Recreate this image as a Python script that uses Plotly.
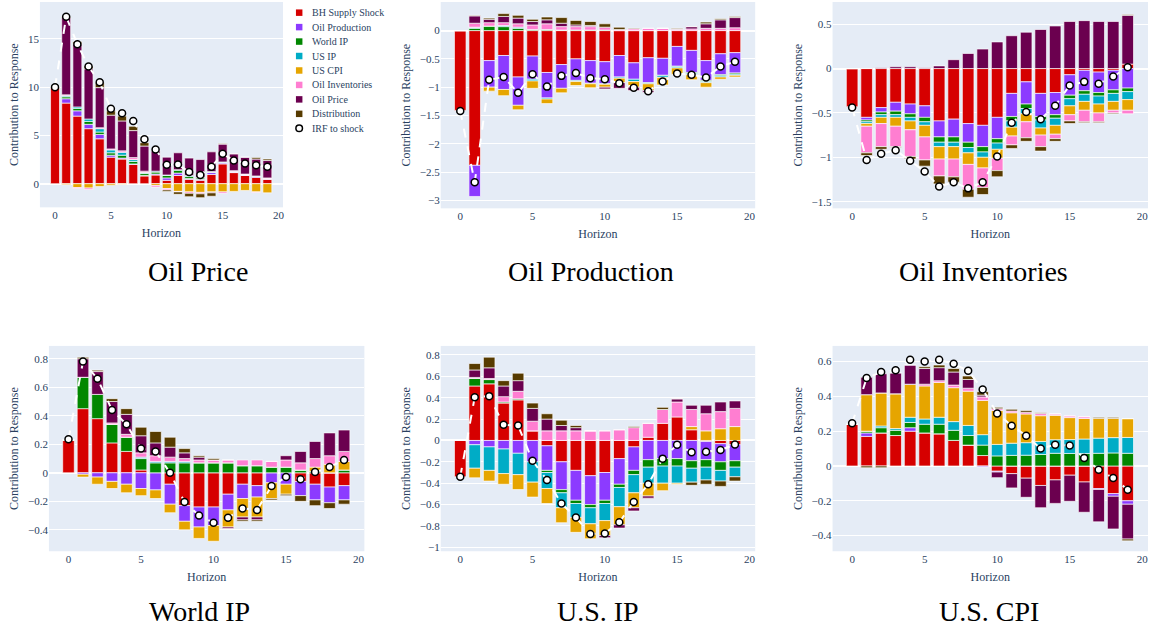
import plotly.graph_objects as go

W, H = 1153, 634
horizon = list(range(20))

shock_names = ["BH Supply Shock", "Oil Production", "World IP", "US IP",
               "US CPI", "Oil Inventories", "Oil Price", "Distribution"]
shock_colors = ["#d60000", "#8c3bff", "#018700", "#00acc6",
                "#e6a500", "#ff7ed1", "#6b004f", "#573b00"]

# Historical decomposition of each response: one row per structural shock
# (same order as shock_names), one column per horizon 0..19.
oil_price_decomp = [
    [10.0, 8.35, 7.0, 5.7, 4.65, 2.75, 2.55, 2.0, 0.8, 0.9, 0.35, 0.85, 0.45, 0.35, 0.95, 2.05, 1.15, 0.85, 0.65, 0.45],
    [0, 0.45, 0.55, 0.45, 0.45, 0.2, 0.1, 0.05, 0.05, 0.1, 0.25, 0.25, 0.1, 0.1, 0.2, 0.1, 0.05, 0.05, 0.1, 0.05],
    [0, 0.2, 0.25, 0.3, 0.25, 0.25, 0.3, 0.25, 0.2, 0.2, 0.25, 0.3, 0.2, 0.15, 0.05, 0.05, 0.05, 0.03, 0.02, 0.02],
    [0, 0.1, 0.15, 0.25, 0.35, 0.3, 0.3, 0.2, 0.1, 0.1, 0.05, 0.05, 0.1, 0.05, 0.05, 0.05, 0.05, 0.02, 0.03, 0.03],
    [0, -0.1, -0.4, -0.45, -0.3, -0.15, -0.05, 0, 0, -0.2, -0.5, -0.8, -0.85, -0.9, -0.85, -0.85, -0.8, -0.7, -0.85, -0.95],
    [0, 0.1, -0.1, -0.15, 0.1, 0.1, 0.15, 0.2, 0.15, -0.15, -0.15, -0.05, -0.15, -0.15, -0.1, -0.15, 0.05, 0.05, -0.05, 0.05],
    [0, 8.0, 6.5, 5.2, 4.15, 3.5, 3.1, 2.8, 2.6, 2.1, 1.85, 1.75, 1.8, 1.85, 2.05, 1.85, 1.75, 1.75, 1.75, 1.8],
    [0, 0.1, 0.25, 0.3, 0.5, 0.45, 0.5, 0.45, 0.35, 0.05, -0.15, -0.25, -0.35, -0.4, -0.35, 0.05, 0, 0, 0.15, 0.15],
]
oil_price_irf = [10.0, 17.3, 14.45, 12.15, 10.5, 7.75, 7.3, 6.5, 4.6, 3.55,
                 1.95, 2.0, 1.2, 0.9, 1.75, 3.1, 2.4, 2.1, 1.9, 1.75]

oil_prod_decomp = [
    [-1.41, -2.38, -0.53, -0.44, -0.82, -0.45, -0.74, -0.6, -0.5, -0.53, -0.55, -0.44, -0.57, -0.48, -0.49, -0.28, -0.35, -0.53, -0.41, -0.39],
    [0, -0.55, -0.47, -0.6, -0.5, -0.41, -0.45, -0.42, -0.38, -0.4, -0.39, -0.38, -0.29, -0.44, -0.3, -0.35, -0.39, -0.35, -0.37, -0.36],
    [0, 0.04, 0.08, 0.07, 0.04, 0.02, 0.02, 0.01, 0.01, 0.01, 0.01, 0.0, 0.0, 0.0, -0.01, -0.01, -0.02, -0.02, -0.02, -0.02],
    [0, 0.02, 0.0, 0.02, 0.02, -0.03, -0.02, 0.0, -0.02, -0.01, -0.01, -0.02, -0.04, -0.02, -0.03, -0.02, -0.02, -0.02, -0.02, -0.02],
    [0, 0, -0.07, -0.11, -0.08, -0.13, -0.08, -0.08, -0.07, -0.07, -0.05, -0.08, -0.1, -0.12, -0.13, -0.11, -0.09, -0.08, -0.04, -0.03],
    [0, 0.07, 0.06, 0.05, 0.06, 0.08, 0.1, 0.06, 0.06, 0.06, 0.05, 0.02, 0.03, 0.04, 0.04, 0.02, 0.03, 0.04, 0.04, 0.05],
    [0, 0.13, 0.06, 0.11, 0.1, 0.06, 0.07, 0.06, 0.03, 0.02, -0.03, -0.1, -0.06, -0.03, 0.0, 0.01, 0.04, 0.08, 0.15, 0.18],
    [0, 0.01, 0.02, 0.05, 0.05, 0.04, 0.05, 0.1, 0.08, 0.07, 0.06, 0.04, 0.01, 0.0, 0.0, 0.01, 0.0, 0.03, 0.02, 0.02],
]
oil_prod_irf = [-1.42, -2.68, -0.87, -0.82, -1.1, -0.77, -0.99, -0.8, -0.75, -0.84,
                -0.86, -0.93, -1.01, -1.07, -0.9, -0.76, -0.78, -0.83, -0.635, -0.55]

oil_inv_decomp = [
    [-0.43, -0.55, -0.44, -0.38, -0.4, -0.42, -0.59, -0.57, -0.62, -0.64, -0.55, -0.28, -0.15, -0.28, -0.27, -0.07, -0.02, -0.04, -0.02, 0.05],
    [0, -0.03, -0.05, -0.1, -0.11, -0.13, -0.18, -0.2, -0.21, -0.24, -0.24, -0.26, -0.25, -0.26, -0.25, -0.23, -0.23, -0.23, -0.22, -0.22],
    [0, -0.02, -0.03, -0.04, -0.04, -0.05, -0.06, -0.06, -0.06, -0.06, -0.05, -0.05, -0.05, -0.04, -0.04, -0.04, -0.04, -0.04, -0.04, -0.04],
    [0, -0.02, -0.03, -0.03, -0.04, -0.04, -0.05, -0.05, -0.06, -0.06, -0.07, -0.07, -0.06, -0.09, -0.08, -0.08, -0.08, -0.09, -0.09, -0.09],
    [0, -0.03, -0.07, -0.1, -0.1, -0.13, -0.14, -0.14, -0.13, -0.12, -0.1, -0.1, -0.09, -0.08, -0.1, -0.1, -0.1, -0.1, -0.1, -0.12],
    [0, -0.3, -0.26, -0.23, -0.3, -0.26, -0.19, -0.2, -0.28, -0.22, -0.14, -0.1, -0.18, -0.13, -0.05, -0.07, -0.13, -0.1, -0.03, -0.04],
    [0, 0.0, 0.01, 0.02, 0.02, 0.01, 0.03, 0.1, 0.17, 0.22, 0.3, 0.37, 0.41, 0.44, 0.48, 0.53, 0.54, 0.53, 0.53, 0.55],
    [0, -0.03, -0.03, -0.01, -0.03, -0.07, -0.09, -0.06, -0.09, -0.08, -0.07, -0.04, -0.04, -0.05, -0.03, -0.03, -0.01, -0.01, -0.01, 0.01],
]
oil_inv_irf = [-0.44, -1.03, -0.96, -0.92, -1.04, -1.16, -1.33, -1.28, -1.35, -1.28,
               -0.99, -0.61, -0.49, -0.57, -0.42, -0.19, -0.15, -0.17, -0.09, 0.015]

world_ip_decomp = [
    [0.23, 0.45, 0.38, 0.21, 0.15, 0.02, 0.0, -0.08, -0.23, -0.24, -0.24, -0.15, -0.08, -0.09, 0.0, 0.0, -0.06, -0.08, -0.1, -0.09],
    [0, -0.01, -0.03, -0.06, -0.08, -0.11, -0.12, -0.14, -0.11, -0.14, -0.13, -0.11, -0.1, -0.08, -0.07, -0.08, -0.1, -0.11, -0.11, -0.1],
    [0, 0.22, 0.17, 0.13, 0.1, 0.08, 0.07, 0.07, 0.07, 0.07, 0.07, 0.07, 0.05, 0.05, 0.04, 0.04, 0.02, 0.01, 0.0, 0.02],
    [0, 0.0, 0.0, 0.0, 0.0, 0.01, 0.01, 0.01, 0.01, 0.0, 0.0, 0.0, 0.0, 0.0, 0.0, 0.0, 0.0, 0.0, 0.0, 0.0],
    [0, -0.02, -0.05, -0.05, -0.06, -0.05, -0.06, -0.06, -0.06, -0.08, -0.11, -0.12, -0.13, -0.14, -0.11, -0.07, 0.0, 0.03, 0.06, 0.06],
    [0, 0.0, 0.0, 0.01, 0.02, 0.03, 0.04, 0.03, 0.02, 0.02, 0.02, 0.02, 0.04, 0.04, 0.04, 0.05, 0.05, 0.06, 0.06, 0.07],
    [0, 0.13, 0.16, 0.15, 0.14, 0.12, 0.09, 0.07, 0.04, 0.02, 0.0, -0.01, -0.02, -0.02, 0.0, 0.03, 0.08, 0.12, 0.16, 0.15],
    [0, 0.01, 0.01, 0.02, 0.04, 0.06, 0.08, 0.07, 0.03, 0.01, 0.01, 0.0, -0.01, -0.01, -0.01, -0.01, -0.04, -0.04, -0.04, -0.03],
]
world_ip_irf = [0.235, 0.78, 0.66, 0.44, 0.34, 0.17, 0.15, 0.0, -0.205, -0.3,
                -0.35, -0.315, -0.25, -0.26, -0.093, -0.03, -0.045, 0.005, 0.04, 0.09]

us_ip_decomp = [
    [-0.34, 0.51, 0.53, 0.35, 0.38, 0.09, -0.05, -0.2, -0.28, -0.33, -0.3, -0.17, -0.06, 0.03, 0.16, 0.22, 0.1, -0.01, -0.03, -0.04],
    [0, -0.04, -0.06, -0.08, -0.12, -0.2, -0.23, -0.26, -0.28, -0.27, -0.26, -0.24, -0.22, -0.18, -0.17, -0.17, -0.19, -0.17, -0.17, -0.15],
    [0, 0.07, 0.04, 0.01, 0.01, 0.0, -0.02, -0.03, -0.03, -0.03, -0.03, -0.03, -0.04, -0.07, -0.07, -0.07, -0.07, -0.07, -0.08, -0.06],
    [0, -0.22, -0.22, -0.23, -0.2, -0.19, -0.15, -0.14, -0.13, -0.15, -0.16, -0.18, -0.17, -0.15, -0.16, -0.16, -0.13, -0.12, -0.1, -0.09],
    [0, -0.09, -0.1, -0.1, -0.14, -0.14, -0.14, -0.14, -0.14, -0.14, -0.14, -0.17, -0.14, -0.12, -0.07, -0.01, 0.03, 0.09, 0.11, 0.13],
    [0, 0.01, 0.01, 0.05, 0.07, 0.09, 0.09, 0.09, 0.09, 0.09, 0.09, 0.1, 0.12, 0.13, 0.13, 0.14, 0.16, 0.16, 0.16, 0.17],
    [0, 0.07, 0.1, 0.1, 0.1, 0.12, 0.11, 0.05, 0.03, 0.0, -0.02, -0.03, -0.03, -0.02, 0.0, 0.03, 0.04, 0.08, 0.09, 0.07],
    [0, 0.06, 0.1, 0.05, 0.07, 0.05, 0.05, 0.05, 0.02, 0.0, 0.0, 0.0, 0.01, 0.0, 0.02, 0.0, -0.03, -0.04, -0.05, -0.04],
]
us_ip_irf = [-0.34, 0.405, 0.415, 0.146, 0.14, -0.19, -0.37, -0.59, -0.72, -0.875,
             -0.87, -0.766, -0.576, -0.41, -0.17, -0.04, -0.11, -0.106, -0.09, -0.037]

us_cpi_decomp = [
    [0.24, 0.17, 0.19, 0.175, 0.2, 0.19, 0.185, 0.147, 0.12, 0.06, -0.03, -0.044, -0.07, -0.112, -0.08, -0.053, -0.092, -0.13, -0.159, -0.2],
    [0, 0.02, 0.0, 0.0, 0.02, 0.0, 0.0, 0.0, 0.0, -0.005, -0.005, 0.0, 0.0, 0.0, 0.0, 0.0, 0.0, -0.005, -0.015, -0.02],
    [0, 0.01, 0.03, 0.03, 0.03, 0.05, 0.055, 0.058, 0.055, 0.06, 0.058, 0.061, 0.062, 0.066, 0.073, 0.072, 0.072, 0.073, 0.075, 0.073],
    [0, 0.0, 0.01, 0.01, 0.03, 0.03, 0.04, 0.05, 0.058, 0.06, 0.066, 0.07, 0.072, 0.075, 0.078, 0.08, 0.083, 0.087, 0.088, 0.091],
    [0, 0.21, 0.19, 0.2, 0.19, 0.19, 0.2, 0.195, 0.197, 0.197, 0.195, 0.175, 0.165, 0.148, 0.14, 0.126, 0.118, 0.115, 0.112, 0.108],
    [0, 0.0, 0.0, 0.0, 0.0, 0.01, 0.01, 0.015, 0.017, 0.02, 0.01, 0.01, 0.01, 0.012, 0.008, 0.01, 0.01, 0.0, 0.0, 0.0],
    [0, 0.1, 0.11, 0.12, 0.11, 0.09, 0.075, 0.075, 0.05, 0.01, -0.032, -0.082, -0.11, -0.128, -0.135, -0.15, -0.174, -0.186, -0.188, -0.2],
    [0, -0.01, -0.01, 0.0, 0.0, 0.01, 0.015, 0.02, 0.02, 0.02, 0.008, 0.01, 0.01, 0.005, 0.0, 0.0, 0.0, 0.005, 0.005, -0.01],
]
us_cpi_irf = [0.245, 0.505, 0.54, 0.55, 0.61, 0.6, 0.61, 0.587, 0.547, 0.44,
              0.302, 0.231, 0.174, 0.1, 0.122, 0.118, 0.046, -0.021, -0.069, -0.136]

captions = ["Oil Price", "Oil Production", "Oil Inventories",
            "World IP", "U.S. IP", "U.S. CPI"]

SERIF = "Liberation Serif, Times New Roman, serif"
INK = "#2a3f5f"


def px_x(v):
    return v / W


def px_y(v):
    return 1 - v / H


# plot areas in pixels: (left, right, top, bottom), y range, y tick step,
# caption centre (x, y)
panels = [
    (oil_price_decomp, oil_price_irf, (40, 283.5, 2, 208), [-2.45, 18.82], 5, (198.5, 272)),
    (oil_prod_decomp, oil_prod_irf, (441.5, 756.5, 2, 209), [-3.14, 0.505], 0.5, (592, 272)),
    (oil_inv_decomp, oil_inv_irf, (834, 1150, 2, 209), [-1.575, 0.75], 0.5, (985, 272)),
    (world_ip_decomp, world_ip_irf, (49, 365, 347, 553), [-0.55, 0.89], 0.2, (200, 613)),
    (us_ip_decomp, us_ip_irf, (441.5, 756.5, 347, 553), [-1.037, 0.885], 0.2, (599, 613)),
    (us_cpi_decomp, us_cpi_irf, (834, 1150, 347, 553), [-0.49, 0.69], 0.2, (991, 613)),
]

fig = go.Figure()
fig.update_layout(template="plotly")

tick_font = dict(family=SERIF, size=11, color=INK)
title_font = dict(family=SERIF, size=12, color=INK)

layout = dict(
    width=W, height=H,
    margin=dict(l=0, r=0, t=0, b=0),
    barmode="relative",
    bargap=0.2,
    showlegend=False,
    font=dict(family=SERIF, size=11, color=INK),
    paper_bgcolor="white",
)
annotations = []
shapes = []

for i, (decomp, irf, box, yr, dy, cap) in enumerate(panels, start=1):
    xa, ya = f"x{i}", f"y{i}"
    for name, color, vals in zip(shock_names, shock_colors, decomp):
        fig.add_trace(go.Bar(
            x=horizon, y=vals, name=name, xaxis=xa, yaxis=ya,
            marker=dict(color=color, line=dict(color="rgba(255,255,255,0.65)", width=1)),
        ))
    fig.add_trace(go.Scatter(
        x=horizon, y=irf, name="IRF to shock", xaxis=xa, yaxis=ya,
        mode="lines+markers",
        line=dict(color="white", width=2, dash="dash"),
        marker=dict(size=7, color="white", line=dict(color="black", width=1.5)),
    ))
    left, right, top, bottom = box
    key = "" if i == 1 else str(i)
    layout["xaxis" + key] = dict(
        domain=[px_x(left), px_x(right)], anchor=ya, range=[-1.35, 20.4],
        dtick=5, tick0=0,
        title=dict(text="Horizon", font=title_font, standoff=8),
        tickfont=tick_font,
    )
    layout["yaxis" + key] = dict(
        domain=[px_y(bottom), px_y(top)], anchor=xa, range=yr,
        dtick=dy, tick0=0,
        title=dict(text="Contribution to Response", font=title_font, standoff=6),
        tickfont=tick_font,
    )
    annotations.append(dict(
        text=captions[i - 1], xref="paper", yref="paper",
        x=px_x(cap[0]), y=px_y(cap[1]), xanchor="center", yanchor="middle",
        showarrow=False, font=dict(family=SERIF, size=28, color="black"),
    ))

# legend column beside the first panel
leg_x, leg_y0, leg_step, sq = 299.7, 12.7, 14.5, 6.5
legend_items = list(zip(shock_names, shock_colors)) + [("IRF to shock", None)]
for k, (name, color) in enumerate(legend_items):
    cy = leg_y0 + k * leg_step
    if color is None:
        shapes.append(dict(
            type="circle", xref="paper", yref="paper",
            x0=px_x(leg_x - 3.3), x1=px_x(leg_x + 3.3),
            y0=px_y(cy + 3.3), y1=px_y(cy - 3.3),
            fillcolor="white", line=dict(color="black", width=1.5),
        ))
    else:
        shapes.append(dict(
            type="rect", xref="paper", yref="paper",
            x0=px_x(leg_x - sq / 2), x1=px_x(leg_x + sq / 2),
            y0=px_y(cy + sq / 2), y1=px_y(cy - sq / 2),
            fillcolor=color, line=dict(width=0),
        ))
    annotations.append(dict(
        text=name, xref="paper", yref="paper",
        x=px_x(310.5), y=px_y(cy), xanchor="left", yanchor="middle",
        showarrow=False, font=dict(family=SERIF, size=10, color=INK),
    ))

layout["annotations"] = annotations
layout["shapes"] = shapes
fig.update_layout(**layout)
fig.write_html("out.html")
